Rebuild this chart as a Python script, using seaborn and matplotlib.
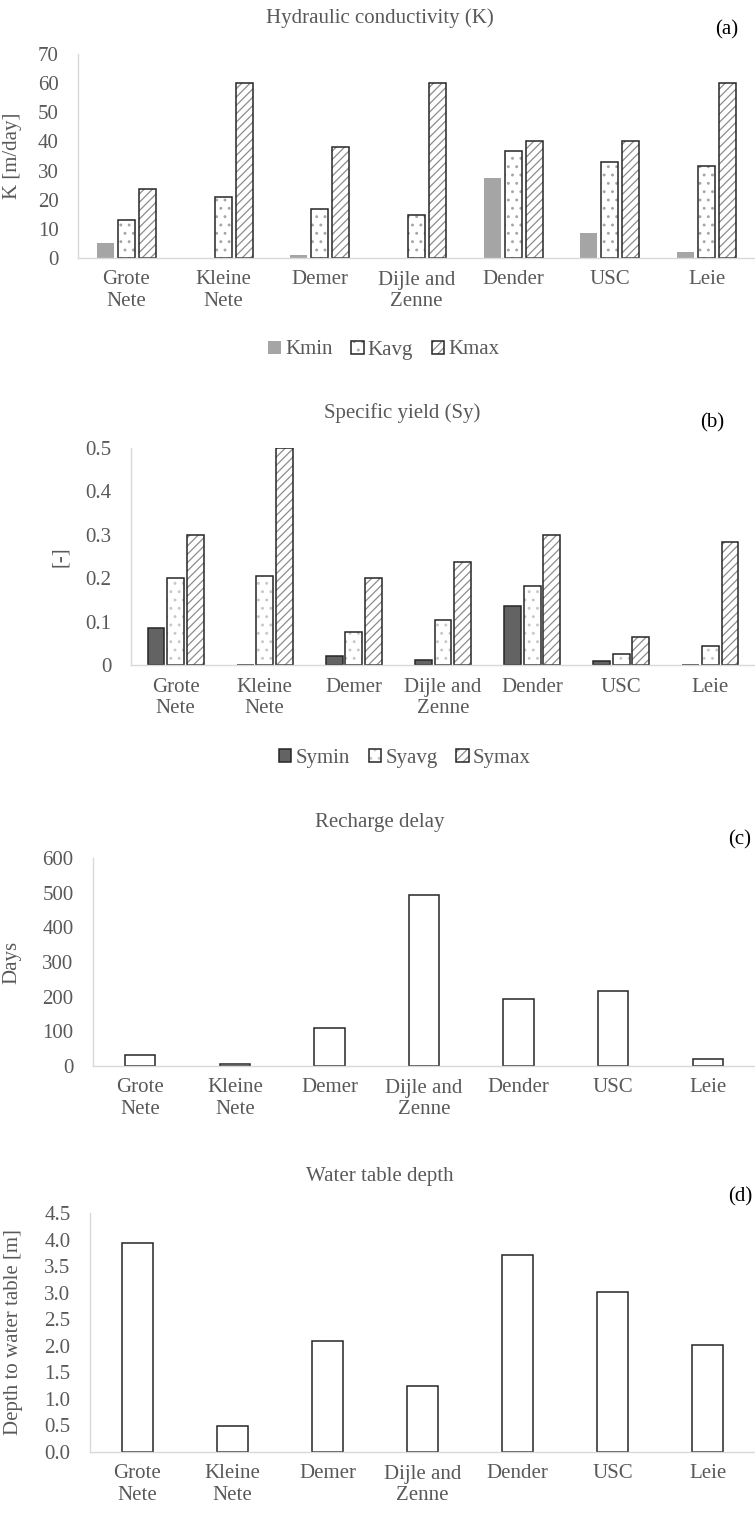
# -*- coding: utf-8 -*-

import numpy as np
import matplotlib
matplotlib.use('agg')
import matplotlib.pyplot as plt
import pandas as pd
import seaborn as sns


catchments = ["Grote\nNete", "Kleine\nNete", "Demer", "Dijle and\nZenne",
              "Dender", "USC", "Leie"]

k_min = [5.0, 0.0, 1.0, 0.0, 27.5, 8.6, 1.9]
k_avg = [13.0, 20.8, 16.7, 14.7, 36.7, 33.1, 31.7]
k_max = [23.7, 60.0, 38.0, 60.0, 40.0, 40.0, 60.0]

sy_min = [0.085, 0.001, 0.021, 0.011, 0.135, 0.0085, 0.001]
sy_avg = [0.200, 0.205, 0.077, 0.104, 0.182, 0.025, 0.043]
sy_max = [0.300, 0.500, 0.200, 0.238, 0.300, 0.065, 0.284]

recharge_delay = [32, 5, 110, 494, 193, 217, 19]
wt_depth = [3.94, 0.49, 2.09, 1.24, 3.71, 3.02, 2.01]

k_labels = ["Kmin", "Kavg", "Kmax"]
sy_labels = ["Symin", "Syavg", "Symax"]

TXT = '#595959'
SPINE = '#D9D9D9'
EDGE = '#262626'
FS = 15

sns.set_theme(style='white')
plt.rcParams['font.family'] = ['Liberation Serif', 'DejaVu Serif']
plt.rcParams['hatch.linewidth'] = 0.9

W, H = 755, 1516
fig = plt.figure(figsize=(W / 100, H / 100), dpi=100)


def box(left, top, bottom, right=755):
    return [left / W, 1 - bottom / H, (right - left) / W, (bottom - top) / H]


def long_df(values, labels):
    rows = []
    for lab, vals in zip(labels, values):
        for c, v in zip(catchments, vals):
            rows.append({"catchment": c, "var": lab, "value": v})
    return pd.DataFrame(rows)


def style_axis(ax, ticks, fmt):
    ax.set_xlim(-0.5, 6.5)
    ax.set_ylim(ticks[0], ticks[-1])
    ax.set_yticks(ticks)
    ax.set_yticklabels([fmt(t) for t in ticks])
    for s in ['top', 'right']:
        ax.spines[s].set_visible(False)
    for s in ['left', 'bottom']:
        ax.spines[s].set_color(SPINE)
        ax.spines[s].set_linewidth(1.0)
    ax.tick_params(axis='both', length=0, labelsize=FS, labelcolor=TXT)
    ax.tick_params(axis='y', pad=14)
    ax.tick_params(axis='x', pad=9)
    ax.set_xlabel('')


def style_grouped(ax, fills, hatches, edges, widths):
    for cont, fc, ht, ec, lw in zip(ax.containers, fills, hatches, edges,
                                    widths):
        for p in cont.patches:
            p.set_facecolor(fc)
            if ht is not None:
                p.set_hatch(ht[0])
            p.set_edgecolor(ec)
            if ht is not None:
                # hatch lines lighter than the bar outline
                p._hatch_color = matplotlib.colors.to_rgba(ht[1])
            p.set_linewidth(lw)


def add_legend(ax, labels, x, y):
    leg = fig.legend(ax.containers, labels, loc='center',
                     bbox_to_anchor=(x / W, 1 - y / H), ncol=3, frameon=False,
                     fontsize=FS, handlelength=0.6, handleheight=0.6,
                     handletextpad=0.2, columnspacing=0.9, labelcolor=TXT)
    return leg


# (a) hydraulic conductivity
ax_a = fig.add_axes(box(78, 54, 258))
df_k = long_df([k_min, k_avg, k_max], k_labels)
sns.barplot(data=df_k, x="catchment", y="value", hue="var", ax=ax_a,
            width=0.65, gap=0.19, legend=False, saturation=1)
style_grouped(ax_a, ['#A5A5A5', 'white', 'white'],
              [None, ('..', '#A6A6A6'), ('////', '#8C8C8C')],
              ['#A5A5A5', EDGE, EDGE], [0, 1.1, 1.1])
style_axis(ax_a, list(range(0, 71, 10)), lambda t: f"{t:g}")
ax_a.set_ylabel("K [m/day]", fontsize=FS, color=TXT, labelpad=6)
ax_a.yaxis.set_label_coords(-0.083, 0.5)
add_legend(ax_a, k_labels, 384, 350)
fig.text(380 / W, 1 - 18 / H, "Hydraulic conductivity (K)", ha='center',
         va='center', fontsize=FS, color=TXT)
fig.text(727 / W, 1 - 30 / H, "(a)", ha='center', va='center', fontsize=FS,
         color='black')

# (b) specific yield
ax_b = fig.add_axes(box(131, 448, 665))
df_sy = long_df([sy_min, sy_avg, sy_max], sy_labels)
sns.barplot(data=df_sy, x="catchment", y="value", hue="var", ax=ax_b,
            width=0.66, gap=0.14, legend=False, saturation=1)
style_grouped(ax_b, ['#636363', 'white', 'white'],
              [None, ('..', '#C8C8C8'), ('////', '#8C8C8C')],
              [EDGE, EDGE, EDGE], [1.1, 1.1, 1.1])
style_axis(ax_b, [0, 0.1, 0.2, 0.3, 0.4, 0.5], lambda t: f"{t:g}")
ax_b.set_ylabel("[-]", fontsize=FS, color=TXT)
ax_b.yaxis.set_label_coords(-0.098, 0.5)
add_legend(ax_b, sy_labels, 405, 758)
fig.text(402 / W, 1 - 413 / H, "Specific yield (Sy)", ha='center',
         va='center', fontsize=FS, color=TXT)
fig.text(712 / W, 1 - 423 / H, "(b)", ha='center', va='center', fontsize=FS,
         color='black')

# (c) recharge delay
ax_c = fig.add_axes(box(93, 858, 1066))
sns.barplot(x=catchments, y=recharge_delay, ax=ax_c, width=0.32,
            color='white', edgecolor=EDGE, linewidth=1.1, saturation=1)
style_axis(ax_c, list(range(0, 601, 100)), lambda t: f"{t:g}")
ax_c.set_ylabel("Days", fontsize=FS, color=TXT)
ax_c.yaxis.set_label_coords(-0.108, 0.5)
fig.text(380 / W, 1 - 822 / H, "Recharge delay", ha='center', va='center',
         fontsize=FS, color=TXT)
fig.text(740 / W, 1 - 840 / H, "(c)", ha='center', va='center', fontsize=FS,
         color='black')

# (d) water table depth
ax_d = fig.add_axes(box(90, 1213, 1452))
sns.barplot(x=catchments, y=wt_depth, ax=ax_d, width=0.32,
            color='white', edgecolor=EDGE, linewidth=1.1, saturation=1)
style_axis(ax_d, list(np.arange(0, 4.51, 0.5)), lambda t: f"{t:.1f}")
ax_d.set_ylabel("Depth to water table [m]", fontsize=FS, color=TXT)
ax_d.yaxis.set_label_coords(-0.1, 0.5)
fig.text(380 / W, 1 - 1177 / H, "Water table depth", ha='center',
         va='center', fontsize=FS, color=TXT)
fig.text(740 / W, 1 - 1197 / H, "(d)", ha='center', va='center', fontsize=FS,
         color='black')

fig.savefig("out.png", dpi=100)
